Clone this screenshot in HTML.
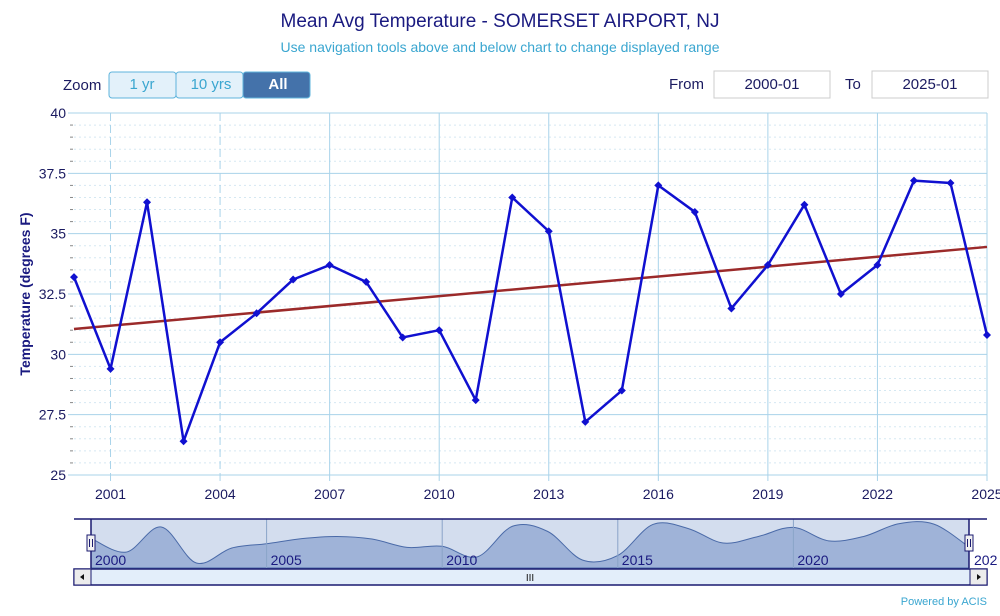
<!DOCTYPE html>
<html><head><meta charset="utf-8"><style>
body{margin:0;background:#fff;font-family:"Liberation Sans",sans-serif;}
svg text{font-family:"Liberation Sans",sans-serif;}
</style></head><body>
<svg id="chart" width="1000" height="611" xmlns="http://www.w3.org/2000/svg">
<text x="500" y="27" text-anchor="middle" font-size="19" fill="#1a1a80">Mean Avg Temperature - SOMERSET AIRPORT, NJ</text>
<text x="500" y="52" text-anchor="middle" font-size="14" fill="#3aa6d0">Use navigation tools above and below chart to change displayed range</text>
<text x="63" y="90" font-size="15" fill="#1a1a60">Zoom</text>
<g><rect x="109" y="72" width="67" height="26" rx="3" fill="#e3f1fa" stroke="#5fb4dc"/><text x="142" y="89" text-anchor="middle" font-size="15" fill="#3aa6d0">1 yr</text></g>
<g><rect x="176" y="72" width="67" height="26" rx="3" fill="#e3f1fa" stroke="#5fb4dc"/><text x="211" y="89" text-anchor="middle" font-size="15" fill="#3aa6d0">10 yrs</text></g>
<g><rect x="243" y="72" width="67" height="26" rx="3" fill="#4472aa" stroke="#5fb4dc"/><text x="278" y="89" text-anchor="middle" font-size="15" font-weight="bold" fill="#fff">All</text></g>
<text x="669" y="89" font-size="15" fill="#1a1a60">From</text>
<g><rect x="714" y="71" width="116" height="27" fill="#fff" stroke="#ccc"/><text x="772" y="89" text-anchor="middle" font-size="15" fill="#1a1a60">2000-01</text></g>
<text x="845" y="89" font-size="15" fill="#1a1a60">To</text>
<g><rect x="872" y="71" width="116" height="27" fill="#fff" stroke="#ccc"/><text x="930" y="89" text-anchor="middle" font-size="15" fill="#1a1a60">2025-01</text></g>
<text transform="translate(30,294) rotate(-90)" text-anchor="middle" font-size="14" font-weight="bold" fill="#1a1a80">Temperature (degrees F)</text>
<g id="grid"></g><g id="series"></g><g id="nav"></g>
<text x="987" y="605" text-anchor="end" font-size="11" fill="#3aa6d0">Powered by ACIS</text>
</svg>
<script>
const years=[2000,2001,2002,2003,2004,2005,2006,2007,2008,2009,2010,2011,2012,2013,2014,2015,2016,2017,2018,2019,2020,2021,2022,2023,2024,2025];
const temps=[33.2,29.4,36.3,26.4,30.5,31.7,33.1,33.7,33.0,30.7,31.0,28.1,36.5,35.1,27.2,28.5,37.0,35.9,31.9,33.7,36.2,32.5,33.7,37.2,37.1,30.8];
const trendStart=31.05, trendEnd=34.45;
const yTicks=[25,27.5,30,32.5,35,37.5,40];
const yTickLabels=["25","27.5","30","32.5","35","37.5","40"];
const xTicks=[2001,2004,2007,2010,2013,2016,2019,2022,2025];
const navTicks=[2000,2005,2010,2015,2020];
const NS="http://www.w3.org/2000/svg";
const X0=74,X1=987,Y0=113,Y1=475;
const xs=y=>X0+(y-2000)/25*(X1-X0);
const ys=v=>Y0+(40-v)/15*(Y1-Y0);
function mk(tag,attrs,parent){const e=document.createElementNS(NS,tag);for(const k in attrs)e.setAttribute(k,attrs[k]);parent.appendChild(e);return e;}
const grid=document.getElementById('grid');
for(let v=25;v<40;v+=0.5){if(v%2.5===0)continue;const l=mk('line',{x1:X0,x2:X1,y1:ys(v),y2:ys(v),stroke:'#d5e8f2','stroke-dasharray':'2,3'},grid);


mk('line',{x1:X0-4,x2:X0-1,y1:ys(v),y2:ys(v),stroke:'#888'},grid);}
yTicks.forEach((v,i)=>{const l=mk('line',{x1:X0-6,x2:X1,y1:ys(v),y2:ys(v),stroke:'#a9d3ea'},grid);


const t=mk('text',{x:X0-8,y:ys(v)+5,'text-anchor':'end','font-size':14,fill:'#1a1a60'},grid);t.textContent=yTickLabels[i];

});
xTicks.forEach(y=>{const dashed=y<=2004;const l=mk('line',{x1:xs(y),x2:xs(y),y1:Y0,y2:Y1+6,stroke:'#a9d3ea'},grid);if(dashed)l.setAttribute('stroke-dasharray','8,4');


const t=mk('text',{x:xs(y),y:Y1+24,'text-anchor':'middle','font-size':14,fill:'#1a1a60'},grid);t.textContent=y;

});
mk('line',{x1:X0,x2:X1,y1:Y1,y2:Y1,stroke:'#a9d3ea'},grid);
const s=document.getElementById('series');
const tr=mk('line',{x1:xs(2000),y1:ys(trendStart),x2:xs(2025),y2:ys(trendEnd),stroke:'#9b2a2a','stroke-width':2.5},s);


const pl=mk('polyline',{points:years.map((y,i)=>xs(y)+','+ys(temps[i])).join(' '),fill:'none',stroke:'#1010d0','stroke-width':2.5,'stroke-linejoin':'round'},s);


years.forEach((y,i)=>{const cx=xs(y),cy=ys(temps[i]);const p=mk('polygon',{points:`${cx},${cy-4} ${cx+4},${cy} ${cx},${cy+4} ${cx-4},${cy}`,fill:'#1010d0'},s);

});
// navigator
const nav=document.getElementById('nav');
const NX0=91,NX1=969,NY0=519,NY1=568;
const nx=y=>NX0+(y-2000)/25*(NX1-NX0);
const ny=v=>527+(36.3-v)*3.64;
const mask=mk('rect',{x:NX0,y:NY0,width:NX1-NX0,height:NY1-NY0,fill:'#d3ddee'},nav);


const pts=years.map((y,i)=>[nx(y),ny(temps[i])]);
let d='M'+pts[0][0]+','+NY1+' L'+pts[0][0]+','+pts[0][1];
for(let i=0;i<pts.length-1;i++){const p0=pts[Math.max(0,i-1)],p1=pts[i],p2=pts[i+1],p3=pts[Math.min(pts.length-1,i+2)];
const c1x=p1[0]+(p2[0]-p0[0])/6,c1y=p1[1]+(p2[1]-p0[1])/6,c2x=p2[0]-(p3[0]-p1[0])/6,c2y=p2[1]-(p3[1]-p1[1])/6;
d+=` C${c1x},${c1y} ${c2x},${c2y} ${p2[0]},${p2[1]}`;}
d+=' L'+pts[pts.length-1][0]+','+NY1+' Z';
const area=mk('path',{d:d,fill:'#9fb3d8',stroke:'#4a6aa8','stroke-width':1},nav);


navTicks.forEach(y=>{mk('line',{x1:nx(y),x2:nx(y),y1:NY0,y2:NY1,stroke:'#8aa4c8'},nav);
const t=mk('text',{x:nx(y)+4,y:NY1-3,'font-size':14,fill:'#1a1a80'},nav);t.textContent=y;

});
const t2=mk('text',{x:974,y:NY1-3,'font-size':14,fill:'#1a1a80'},nav);t2.textContent='202';
mk('line',{x1:74,x2:987,y1:NY0,y2:NY0,stroke:'#1a1a70','stroke-width':1.5},nav);
mk('line',{x1:NX0,x2:NX0,y1:NY0,y2:NY1,stroke:'#1a1a70','stroke-width':1.5},nav);
mk('line',{x1:NX1,x2:NX1,y1:NY0,y2:NY1,stroke:'#1a1a70','stroke-width':1.5},nav);
[NX0,NX1].forEach((x,i)=>{const h=mk('rect',{x:x-4,y:535,width:8,height:16,fill:'#f2f2f2',stroke:'#1a1a70'},nav);


mk('line',{x1:x-1.5,x2:x-1.5,y1:539,y2:547,stroke:'#1a1a70'},nav);mk('line',{x1:x+1.5,x2:x+1.5,y1:539,y2:547,stroke:'#1a1a70'},nav);});
const sb=mk('rect',{x:74,y:569,width:913,height:16,fill:'#e3eefa',stroke:'#1a1a70','stroke-width':1.5},nav);


mk('rect',{x:74,y:569,width:17,height:16,fill:'#ececec',stroke:'#1a1a70'},nav);
mk('rect',{x:970,y:569,width:17,height:16,fill:'#ececec',stroke:'#1a1a70'},nav);
mk('polygon',{points:'80,577 84,574 84,580',fill:'#111'},nav);
mk('polygon',{points:'981,577 977,574 977,580',fill:'#111'},nav);
const g=mk('text',{x:530,y:581,'text-anchor':'middle','font-size':10,fill:'#111'},nav);g.textContent='III';


</script>
</body></html>
